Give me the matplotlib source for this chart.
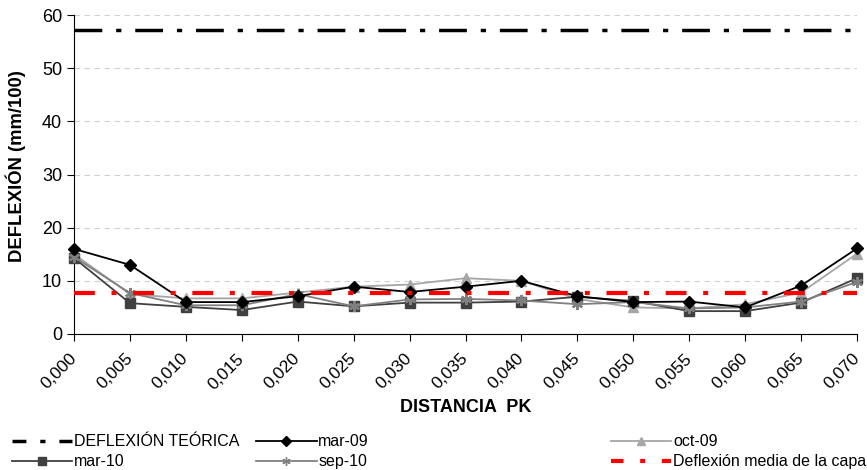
import matplotlib.pyplot as plt
from matplotlib.lines import Line2D

plt.rcParams['font.family'] = ['Liberation Sans', 'DejaVu Sans']

# Distancias y deflexiones medidas por campaña
pk = [0.000, 0.005, 0.010, 0.015, 0.020, 0.025, 0.030, 0.035,
      0.040, 0.045, 0.050, 0.055, 0.060, 0.065, 0.070]
mar09 = [16.0, 13.0, 6.0, 6.0, 7.1, 8.9, 7.9, 8.9, 10.0, 7.1, 6.0, 6.1, 5.0, 9.1, 16.1]
oct09 = [15.0, 7.5, 6.7, 6.7, 7.8, 8.9, 9.3, 10.5, 10.0, 6.6, 5.0, 4.8, 5.6, 7.8, 15.1]
mar10 = [14.3, 5.8, 5.1, 4.5, 6.1, 5.2, 5.9, 5.9, 6.1, 7.0, 6.2, 4.3, 4.3, 5.9, 10.5]
sep10 = [14.5, 7.7, 5.4, 5.4, 7.5, 5.2, 6.5, 6.6, 6.3, 5.6, 6.0, 4.8, 5.0, 6.1, 9.8]
deflexion_teorica = 57.1
deflexion_media = 7.8

tick_labels = [f"{v:.3f}".replace(".", ",") for v in pk]

fig = plt.figure(figsize=(8.67, 4.70), dpi=100)
ax = fig.add_axes([0.0854, 0.2894, 0.9031, 0.6786])

ax.axhline(deflexion_teorica, color="black", lw=2.5, dashes=(8, 4, 1.5, 4), zorder=3)
ax.plot(pk, mar09, color="black", lw=1.3, marker="D", ms=6, clip_on=False, zorder=5)
ax.plot(pk, oct09, color="#a6a6a6", lw=1.3, marker="^", ms=7, clip_on=False, zorder=4)
ax.plot(pk, mar10, color="#404040", lw=1.3, marker="s", ms=6.5, clip_on=False, zorder=4)
ax.plot(pk, sep10, color="#808080", lw=1.3, marker=(6, 2, 0), ms=8, mew=1.5, clip_on=False, zorder=4)
ax.axhline(deflexion_media, color="red", lw=3, dashes=(5, 4, 1.2, 4), zorder=6)

ax.set_xlim(0, 0.070)
ax.set_ylim(0, 60)
ax.set_xticks(pk)
ax.set_xticklabels(tick_labels, rotation=45, ha="right", va="center",
                   rotation_mode="anchor", fontsize=12.5)
ax.set_yticks(range(0, 61, 10))
ax.tick_params(axis="y", labelsize=13)
ax.tick_params(axis="x", pad=11)
ax.tick_params(direction="out", length=5, color="black")
ax.yaxis.grid(True, color="#d0d0d0", ls=(0, (5, 4)), lw=0.8)
ax.set_axisbelow(True)
for s in ["top", "right"]:
    ax.spines[s].set_visible(False)

ax.set_xlabel("DISTANCIA  PK", fontsize=13, fontweight="bold")
ax.set_ylabel("DEFLEXIÓN (mm/100)", fontsize=13.3, fontweight="bold")
ax.xaxis.set_label_coords(0.5, -0.205)
ax.yaxis.set_label_coords(-0.061, 0.525)

# Leyenda en tres columnas independientes
h_teo = Line2D([], [], color="black", lw=2.5, dashes=(4, 4, 1.5, 4))
h_m09 = Line2D([], [], color="black", lw=1.3, marker="D", ms=5)
h_o09 = Line2D([], [], color="#a6a6a6", lw=1.3, marker="^", ms=6)
h_m10 = Line2D([], [], color="#404040", lw=1.3, marker="s", ms=6)
h_s10 = Line2D([], [], color="#808080", lw=1.3, marker=(6, 2, 0), ms=6)
h_med = Line2D([], [], color="red", lw=3, dashes=(3, 4, 1.2, 4))

cols = [([h_teo, h_m10], ["DEFLEXIÓN TEÓRICA", "mar-10"], 0.006),
        ([h_m09, h_s10], ["mar-09", "sep-10"], 0.288),
        ([h_o09, h_med], ["oct-09", "Deflexión media de la capa"], 0.697)]
for handles, labels, x0 in cols:
    fig.legend(handles, labels, loc="lower left", bbox_to_anchor=(x0, -0.012),
               frameon=False, fontsize=11.5, handlelength=3.8, handletextpad=0.1,
               labelspacing=0.3, borderaxespad=0)

fig.savefig("out.png", dpi=100)
